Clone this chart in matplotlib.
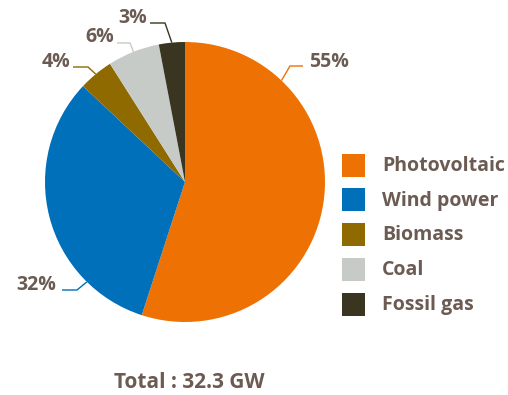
import matplotlib
matplotlib.use("Agg")
import matplotlib.pyplot as plt
import numpy as np
from matplotlib.patches import Rectangle

categories = ["Photovoltaic", "Wind power", "Biomass", "Coal", "Fossil gas"]
shares = [55, 32, 4, 6, 3]
colors = ["#EE7203", "#0070BA", "#8F6A00", "#C7CBC8", "#3A3520"]
total_label = "Total : 32.3 GW"

TEXT = "#6B5B52"
FONT = "Open Sans"
W, H = 508, 395
fig = plt.figure(figsize=(W / 100, H / 100), dpi=100)
ax = fig.add_axes([0, 0, 1, 1])


def Y(py):
    return H - py


cx, cy, R = 185, Y(182), 140
wedges, _ = ax.pie(shares, colors=colors, startangle=90, counterclock=False,
                   center=(cx, cy), radius=R, wedgeprops=dict(linewidth=0),
                   frame=True)
ax.set_xlim(0, W)
ax.set_ylim(0, H)
ax.set_aspect('equal')
ax.axis('off')

# leader-line layout: fraction along wedge (clockwise), elbow, end, text pos, ha
layout = [
    (0.22, (290, 66), (303, 66), (309, 62), 'left'),
    (0.23, (77, 290), (62, 290), (56, 285), 'right'),
    (0.5, (88, 67), (73, 67), (70, 62), 'right'),
    (0.5, (130, 43), (117, 43), (114, 37), 'right'),
    (0.5, (165, 23), (150, 23), (147, 18), 'right'),
]
for w, v, c, (f, el, en, tp, ha) in zip(wedges, shares, colors, layout):
    ang = np.deg2rad(w.theta2 - f * (w.theta2 - w.theta1))
    ax_, ay_ = cx + R * np.cos(ang), cy + R * np.sin(ang)
    ax.plot([ax_, el[0], en[0]], [ay_, Y(el[1]), Y(en[1])], color=c, lw=1.0,
            solid_capstyle='butt', solid_joinstyle='miter')
    ax.text(tp[0], Y(tp[1]), f"{v}%", ha=ha, va='center', color=TEXT,
            fontsize=14, fontweight='bold', family=FONT)

# legend
for i, (cat, c) in enumerate(zip(categories, colors)):
    yc = 165 + i * 34.75
    ax.add_patch(Rectangle((342, Y(yc) - 11.5), 23, 23, color=c, lw=0))
    ax.text(382, Y(yc + 1), cat, ha='left', va='center', color=TEXT,
            fontsize=14, fontweight='bold', family=FONT)

ax.text(189.5, Y(383), total_label, ha='center', va='center', color=TEXT,
        fontsize=15, fontweight='bold', family=FONT)

fig.savefig("out.png", dpi=100)
